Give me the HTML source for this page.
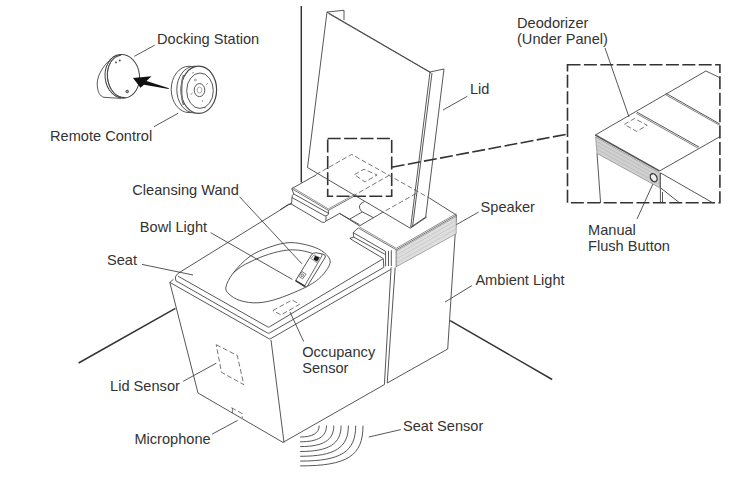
<!DOCTYPE html>
<html><head><meta charset="utf-8">
<style>
html,body{margin:0;padding:0;background:#fff;width:750px;height:483px;overflow:hidden}
svg{display:block}
text{font-family:"Liberation Sans",sans-serif;font-size:14.6px;fill:#333}
.l{fill:none;stroke:#444;stroke-width:0.9}
.t{fill:none;stroke:#333;stroke-width:1.45}
.d{fill:none;stroke:#333;stroke-width:1.6;stroke-dasharray:13 3.4}
.dt{fill:none;stroke:#555;stroke-width:0.8;stroke-dasharray:5 2.5}
</style></head><body>
<svg width="750" height="483" viewBox="0 0 750 483">
<!-- labels -->
<text x="157" y="43.5">Docking Station</text>
<text x="50" y="140.5">Remote Control</text>
<text x="470" y="94.4">Lid</text>
<text x="517" y="27.9">Deodorizer</text>
<text x="517" y="43.7">(Under Panel)</text>
<text x="132.3" y="194.5">Cleansing Wand</text>
<text x="139.8" y="231.9">Bowl Light</text>
<text x="107" y="264.6">Seat</text>
<text x="480.6" y="212.1">Speaker</text>
<text x="588" y="235.1">Manual</text>
<text x="588" y="251.1">Flush Button</text>
<text x="475.4" y="285.1">Ambient Light</text>
<text x="302.2" y="356.5">Occupancy</text>
<text x="302.2" y="372.5">Sensor</text>
<text x="110.1" y="390.9">Lid Sensor</text>
<text x="134.4" y="443.6">Microphone</text>
<text x="403" y="430.6">Seat Sensor</text>

<!-- leaders -->
<path class="l" d="M134.4,56.3 L154.7,45.2 M154,126.7 L178.2,113.2 M467.3,96.3 L443,110 M239.5,196.7 L301.9,263.8 M210.7,232.7 L292.3,279.4 M142,264.4 L193,275 M478.7,212 L450,228.3 M471.9,285.6 L445,302 M637,219 L654,181.5 M303.7,341.6 L290,312 M183.2,381.3 L216.3,363.2 M212,434.2 L237.6,420.4 M368.8,437 L400.8,429.6 M605,48 L629,117"/>

<!-- wall & floor -->
<path class="t" d="M301.3,6 V182.4 M78.6,363 L175.4,308.4 M450.2,320.7 L552.2,379.5"/>

<!-- docking station -->
<path class="l" d="M116.5,55.2 C106,61 97,74 97.2,84 C97.4,92 100,96.5 104,97.3 L121,98.4"/>
<ellipse cx="122.3" cy="76.3" rx="17.2" ry="21.9" transform="rotate(-6 122.3 76.3)" fill="#fff" stroke="#444" stroke-width="1"/>
<path class="l" d="M121.2,55.1 A16 21.4 -6 0 0 125.6,97.7" stroke="#555"/>
<path class="l" d="M120.5,55.4 A15 21 -6 0 0 124.5,97.4" stroke="#999" stroke-width="0.7"/>
<circle cx="116" cy="62.4" r="0.9" fill="#444"/><circle cx="119.8" cy="60.5" r="0.9" fill="#444"/>
<circle cx="127.2" cy="91.5" r="1.3" fill="#999" stroke="#444" stroke-width="0.9"/>
<!-- arrow -->
<path d="M133,78 L151.5,76.3 L146.5,81 L169,88.3 L168.5,89 L144,84.8 L140.5,87.8 Z" fill="#111"/>
<!-- remote -->
<g fill="#fff" stroke="#444" stroke-width="0.9">
<ellipse cx="189" cy="89.4" rx="17.8" ry="23.2"/>
<ellipse cx="194.6" cy="89.6" rx="17.8" ry="23.4"/>
<ellipse cx="198.8" cy="89.8" rx="17.8" ry="23.6" stroke-width="1.2"/>
<path d="M183.5,75 C181,82 181,98 183.5,105" fill="none" stroke="#777" stroke-width="1.6"/>
<ellipse cx="200" cy="90.7" rx="13.3" ry="17.7"/>
<ellipse cx="199.5" cy="90.1" rx="5.3" ry="6.5"/>
<ellipse cx="199.5" cy="90.1" rx="2.4" ry="3" stroke="#888" stroke-width="0.7"/>
</g>
<g fill="none" stroke="#888" stroke-width="0.8">
<circle cx="195.4" cy="80" r="1"/><path d="M206,85 L208,83 M190.5,95 L192.5,92.5 M202,100 L203,102 M192,73 L194,72.5"/>
</g>
<circle cx="204.8" cy="107.6" r="0.7" fill="#555"/>

<!-- lid -->
<g class="l">
<path d="M327,12 L344,10.3 L344,20 M327,12 L430,72 L444,69 L425.7,217 L410.7,227.3 L430,72"/>
<path d="M328.5,13.5 L431,73 M432,73 L412.5,227"/>
<path d="M327,12 L307.5,167.5"/>
</g>

<!-- deodorizer dashed box & leader -->
<path class="d" d="M327.7,138.5 H391.7 V196.3 H327.7 Z M391.7,167.2 L567.5,134.1"/>
<path class="dt" d="M316,174.5 L351.7,154.4 L430,198.4 M389.4,175.2 L353.9,195.5 M416.1,193.5 L382,212.7"/>
<path class="dt" d="M354.5,174.6 L364,169.2 L377,175 L365,182 Z"/>

<!-- magnified box -->
<g class="l">
<path d="M595.3,135 L705.9,71 L719.8,77.7 M659.5,171 L719.8,136.7"/>
<path d="M597,153.4 L600.6,203 M660.4,172.8 L660.4,203 M662.5,192 V203 M660.4,187.7 L679.7,203 M660.4,172.8 L713.1,203"/>
</g>
<path d="M595.6,137 L659.5,173 V187.7 L597,153.4 Z" fill="#d0d0d0" stroke="#777" stroke-width="0.6"/>
<path d="M595.8,141 L659.5,176.8 M596.2,145 L659.5,180.5 M596.6,149 L659.5,184.2" stroke="#b4b4b4" stroke-width="0.7" fill="none"/>
<path d="M595.3,135 L659.5,171" stroke="#555" stroke-width="1.5" fill="none"/>
<path d="M637,112.2 L699,147 M665.8,93.2 L719.8,124" stroke="#444" stroke-width="0.9" fill="none"/>
<path d="M636.4,113.5 L698.2,148.2 M665.2,94.5 L719.8,125.4" stroke="#666" stroke-width="0.8" fill="none"/>
<ellipse cx="653.7" cy="177.7" rx="3.1" ry="4.3" transform="rotate(-28 653.7 177.7)" fill="#eee" stroke="#333" stroke-width="1.3"/>
<path class="dt" d="M624.3,124.4 L634.5,118.5 L647.2,125.3 L636.6,131.4 Z"/>
<path class="d" d="M567.5,64.75 H719.9 V202.7 H567.5 Z"/>

<!-- toilet body -->
<g class="l">
<!-- seat top outlines -->
<path d="M291,203.3 L177.8,273.5 Q173.8,276.8 175.8,280.7 L267.5,333 Q268.5,333.6 269.5,333 L383.8,267.4 M178.1,276.2 L267.5,326.8 Q268.5,327.4 269.5,326.8 L383.3,258.6 L383.8,267.4"/>
<path d="M173.4,279.3 L169.8,282.4 L268.8,338.6 Q269.8,339.2 270.8,338.6 L390.6,269.5"/>
<!-- body -->
<path d="M169.8,282.4 L198,393 L283,442.4 L384.4,384.6 M271,340 L284,442.4"/>
<path d="M391.1,267.4 L384.4,384.6 M395.2,267.4 L387.2,383 L447.7,349 L456.4,215.1"/>
<!-- bowl -->
<path d="M225.9,287 C226.6,283.5 229.3,278.0 233.3,272.9 C237.3,267.8 243.9,260.6 250.0,256.3 C256.1,252.0 263.3,249.3 270.0,247.0 C276.7,244.7 283.2,242.8 290.0,242.6 C296.8,242.4 305.2,244.4 310.9,246.1 C316.6,247.8 320.8,249.8 324.0,252.5 C327.2,255.2 330.4,258.2 330.2,262.0 C329.9,265.8 326.2,271.1 322.5,275.1 C318.8,279.1 315.2,282.1 308.0,286.0 C300.8,289.9 287.3,295.5 279.0,298.3 C270.7,301.1 264.5,302.4 258.0,302.8 C251.5,303.2 244.8,302.0 240.0,300.5 C235.2,299.0 231.3,296.2 229.0,294.0 C226.7,291.8 225.2,290.5 225.9,287.0 Z"/>
<path d="M233.3,272.9 C238,268.5 244,264.5 250,262 C262,256 275,251.5 288,250 C298,249.3 306,251 314,254"/>
<!-- step block right -->
<path d="M353.2,240.6 L382.8,258.2 M349.8,238.3 L353.2,240.6 M349.8,238.3 L353.8,237.2 L353.2,232.6 L358.3,227.8 M353.2,232.6 L385.6,251.4 V266.2 M353.8,237.2 L385,254.3 M388.5,250.9 V266 M391.3,250.3 V266 M396.3,249.7 V267"/>
<path d="M339.2,213.1 L359.5,225.9 L382,212.7 M364.5,201.5 Q356,205 361.6,211.5 M361.6,211.5 L373.3,217.6 M349.9,219 L362.2,212"/>
<!-- tank top -->
<path d="M430,198.4 L456.4,215.1"/>
<path d="M358.6,228.2 L396.3,249.8 L456.4,215.1" stroke="#666" stroke-width="0.9"/>
<path d="M359.3,226.9 L396.3,248.3 L456.4,213.6" stroke="#777" stroke-width="0.8"/>
<!-- left hinge block -->
<path d="M291.8,188.6 L316,175 M291.8,188.6 L293.8,194 Q291.5,195.5 292,197.5 L291.5,204.2 L288.7,204.2 L280,209.8 M293.8,194 L328.8,213.5 M292,197.5 L325,216 Q328,216 328.8,213.5 M291.5,204.2 L322.2,222.3 Q325,223 326,221 L339.6,213.5 L359.5,224.7 M326,216.3 V221 M328.4,210.4 V213.5"/>
<path d="M291.8,188.6 L328.4,210.4 L354.5,196" stroke="#666" stroke-width="0.9"/>
<path d="M292.5,187.4 L328.4,208.9 L354.5,194.5" stroke="#777" stroke-width="0.8"/>
<!-- lid bottom edge -->
<path d="M307.5,167.5 L410.3,228.2 L426.8,217"/>
</g>
<path d="M396.3,251 L456.2,216.5 V233.8 L396.3,266.7 Z" fill="#dedede" stroke="#777" stroke-width="0.6"/>
<path d="M396.3,255 L456.2,220.5 M396.3,259 L456.2,224.5 M396.3,263 L456.2,229" stroke="#c2c2c2" stroke-width="0.7" fill="none"/>
<!-- dashed sensors -->
<path class="dt" d="M272.9,310.5 L292.1,300 L299.6,304.3 L281,314.9 Z"/>
<path class="dt" d="M216.2,344.7 L237.3,355.6 L243.8,384.7 L221.5,372.3 Z"/>
<path class="dt" d="M231.4,407.7 L242.2,413.6 V418 M232.4,408 V413"/>
<!-- wand -->
<path d="M295.6,280.6 L311.6,254.6 Q313,252.6 316,252.8 L322.5,254 Q326,254.8 325.4,257 L307.4,286.2 Q306.2,287.3 304.8,286.6 Z" fill="#fff" stroke="#444" stroke-width="0.9"/>
<path d="M304.6,286 L321.8,256 Q322.5,254.5 321.5,253.9" fill="none" stroke="#444" stroke-width="0.8"/>
<path d="M295.6,280.6 L304.8,286.3" fill="none" stroke="#333" stroke-width="1.6"/>
<path d="M311,258.5 L314,255 L319.5,257.6 L316.5,262.5 Z" fill="#fff" stroke="#666" stroke-width="0.7"/>
<path d="M315,255.8 L319.5,257.6 L317,261.6 L313.4,259.6 Z" fill="#1a1a1a"/>
<path d="M298.6,276 L302,271.6 L306,274.2 L302.6,278.8 Z" fill="#fff" stroke="#555" stroke-width="0.8"/>
<circle cx="302.2" cy="275.2" r="1.3" fill="none" stroke="#555" stroke-width="0.8"/>
<!-- sound waves -->
<g class="l" stroke="#555">
<path d="M300.2,437.0 C312.7,437.0 319.2,433.1 319.2,425.6"/>
<path d="M300.2,441.8 C318.0,441.8 326.5,436.5 326.5,425.6"/>
<path d="M300.2,446.6 C323.4,446.6 333.8,440.1 333.8,425.6"/>
<path d="M300.2,451.5 C329.0,451.5 341.1,443.8 341.1,425.6"/>
<path d="M300.2,456.3 C334.9,456.3 348.4,447.7 348.4,425.6"/>
<path d="M300.2,461.1 C341.0,461.1 355.7,451.7 355.7,425.6"/>
<path d="M300.2,465.9 C347.3,465.9 363.0,455.8 363.0,425.6"/>
</g>
</svg>
</body></html>
